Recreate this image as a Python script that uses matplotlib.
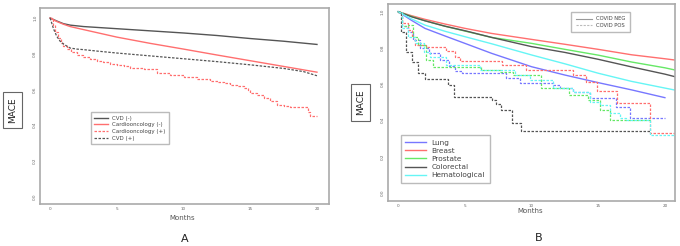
import numpy as np
import matplotlib as mpl
mpl.use('Agg')
from matplotlib import pyplot as plt
from matplotlib.lines import Line2D

# ---- panel A data ----
a_t = [0, 0.5, 1, 1.5, 2.5, 5, 7.5, 10, 12.5, 15, 17.5, 20]
cvd_neg = [1.0, 0.983, 0.968, 0.960, 0.952, 0.940, 0.928, 0.916, 0.902, 0.885, 0.870, 0.852]
cardio_neg = [1.0, 0.980, 0.965, 0.952, 0.935, 0.893, 0.858, 0.826, 0.793, 0.761, 0.729, 0.697]
cvd_pos_t = [0, 0.25, 0.5, 0.75, 1, 1.5, 2, 2.5, 3.5, 5, 7.5, 10, 12.5, 15, 17.5, 19, 20]
cvd_pos = [1.0, 0.94, 0.897, 0.870, 0.854, 0.832, 0.826, 0.823, 0.815, 0.804, 0.788, 0.772, 0.756, 0.738, 0.718, 0.700, 0.677]
cardio_pos_t = [0, 0.2, 0.4, 0.6, 0.8, 1, 1.3, 1.6, 2, 2.5, 3, 3.5, 4, 4.5, 5, 5.5, 6, 7, 8, 9, 10, 11, 12,
                12.6, 13, 13.5, 14, 14.5, 14.8, 15, 15.5, 16, 16.5, 17, 17.5, 18, 19, 19.3, 19.5, 20]
cardio_pos = [1.0, 0.96, 0.92, 0.89, 0.86, 0.841, 0.825, 0.810, 0.794, 0.782, 0.770, 0.760, 0.752, 0.745, 0.738,
              0.730, 0.720, 0.712, 0.695, 0.682, 0.669, 0.657, 0.645, 0.640, 0.636, 0.628, 0.620, 0.607, 0.595,
              0.583, 0.570, 0.551, 0.535, 0.514, 0.508, 0.505, 0.500, 0.477, 0.452, 0.452]

# ---- panel B data: COVID NEG (smooth) ----
b_t = [0, 1, 2, 3.5, 5, 7, 10, 12.5, 15, 17.5, 20, 20.75]
breast = [1.0, 0.978, 0.958, 0.932, 0.908, 0.880, 0.847, 0.820, 0.792, 0.762, 0.740, 0.733]
prostate = [1.0, 0.974, 0.950, 0.920, 0.893, 0.858, 0.825, 0.792, 0.760, 0.722, 0.690, 0.678]
colorectal = [1.0, 0.972, 0.950, 0.920, 0.895, 0.858, 0.807, 0.775, 0.737, 0.695, 0.655, 0.641]
hemato = [1.0, 0.960, 0.926, 0.892, 0.862, 0.823, 0.761, 0.712, 0.660, 0.615, 0.578, 0.567]
lung_t = [0, 1, 2, 3.5, 5, 7, 10, 12.5, 15, 17.5, 20]
lung = [1.0, 0.952, 0.908, 0.866, 0.825, 0.770, 0.696, 0.650, 0.608, 0.568, 0.525]

# ---- panel B data: COVID POS (steps) ----
lung_p_t = [0, 0.3, 0.7, 1.1, 1.6, 2.3, 3.1, 3.8, 4.25, 4.75, 8.1, 9.1, 11.6, 12.1, 13.1, 14.25, 14.4, 16.3, 17.4, 20]
lung_p = [1.0, 0.92, 0.89, 0.843, 0.797, 0.770, 0.733, 0.700, 0.672, 0.663, 0.632, 0.604, 0.595, 0.576, 0.558,
          0.549, 0.521, 0.475, 0.414, 0.414]
breast_p_t = [0, 0.3, 0.7, 1.0, 1.25, 2.1, 3.6, 4.25, 4.6, 7.8, 9.6, 13.1, 14.1, 14.9, 16.4, 18.9, 20.75]
breast_p = [1.0, 0.94, 0.90, 0.858, 0.816, 0.807, 0.785, 0.750, 0.727, 0.705, 0.678, 0.650, 0.613, 0.564, 0.494,
            0.328, 0.328]
prostate_p_t = [0, 0.3, 0.75, 1.1, 1.5, 2.1, 2.6, 6.2, 7.6, 8.6, 10.7, 12.8, 14.2, 15.1, 15.9, 19.0]
prostate_p = [1.0, 0.92, 0.926, 0.862, 0.816, 0.733, 0.696, 0.678, 0.669, 0.650, 0.576, 0.540, 0.512, 0.457,
              0.401, 0.401]
colorectal_p_t = [0, 0.2, 0.6, 1.0, 1.5, 2.0, 3.7, 4.2, 7.0, 7.3, 7.7, 8.5, 9.2, 18.9]
colorectal_p = [1.0, 0.89, 0.78, 0.724, 0.663, 0.626, 0.595, 0.530, 0.512, 0.490, 0.457, 0.387, 0.343, 0.343]
hemato_p_t = [0, 0.3, 0.7, 1.25, 1.9, 2.4, 3.6, 6.1, 8.75, 9.9, 11.6, 13.1, 14.4, 15.1, 15.9, 16.6, 17.1, 18.9, 20.75]
hemato_p = [1.0, 0.91, 0.86, 0.825, 0.780, 0.751, 0.705, 0.678, 0.650, 0.623, 0.576, 0.558, 0.503, 0.484, 0.438,
            0.410, 0.401, 0.319, 0.319]

xticks = [0, 5, 10, 15, 20]
yticks = [0.0, 0.2, 0.4, 0.6, 0.8, 1.0]

c_gray = '#555555'
c_red = '#ff6f6f'
c_blue = '#7777ff'
c_green = '#66e866'
c_cyan = '#66f5f5'
dash = (0, (2, 1.2))

fig = plt.figure(figsize=(6.8, 2.46), dpi=100)


def style_axes(ax):
    for s in ax.spines.values():
        s.set_color('#aaaaaa')
        s.set_linewidth(1.2)
    ax.set_xticks(xticks)
    ax.set_yticks(yticks)
    ax.set_xticklabels([str(v) for v in xticks], fontsize=3, color='#666666')
    ax.set_yticklabels(['%.1f' % v for v in yticks], fontsize=3, color='#666666', rotation=90, va='center')
    ax.tick_params(length=0, pad=2)


# ---- A ----
axA = fig.add_axes([0.0588, 0.1707, 0.425, 0.797])
axA.plot(a_t, cvd_neg, color=c_gray, lw=1.0)
axA.plot(a_t, cardio_neg, color=c_red, lw=1.0)
axA.plot(cardio_pos_t, cardio_pos, color=c_red, lw=0.9, ls=dash, drawstyle='steps-post')
axA.plot(cvd_pos_t, cvd_pos, color=c_gray, lw=0.9, ls=dash)
axA.set_xlim(-0.76, 20.9)
axA.set_ylim(-0.04, 1.056)
style_axes(axA)
hA = [Line2D([], [], color=c_gray, lw=1.0),
      Line2D([], [], color=c_red, lw=1.0),
      Line2D([], [], color=c_red, lw=0.9, ls=dash),
      Line2D([], [], color=c_gray, lw=0.9, ls=dash)]
legA = axA.legend(hA, ['CVD (-)', 'Cardiooncology (-)', 'Cardiooncology (+)', 'CVD (+)'],
                  loc='upper left', bbox_to_anchor=(0.175, 0.471), fontsize=4.0, fancybox=False,
                  edgecolor='#bbbbbb', handlelength=2.4, labelspacing=0.3, borderpad=0.7,
                  borderaxespad=0, framealpha=1)
legA.get_frame().set_linewidth(1.0)
for t in legA.get_texts():
    t.set_color('#444444')

fig.text(182 / 680, 1 - 218 / 246, 'Months', fontsize=5, color='#555555', ha='center', va='center')
fig.text(185 / 680, 1 - 239 / 246, 'A', fontsize=8, color='#222222', ha='center', va='center')
fig.text(12.5 / 680, 1 - 110 / 246, 'MACE', fontsize=6.5, rotation=90, ha='center', va='center',
         color='#222222',
         bbox=dict(boxstyle='square,pad=0.6', fc='white', ec='#666666', lw=0.8))

# ---- B ----
axB = fig.add_axes([0.570, 0.183, 0.4225, 0.801])
axB.plot(lung_t, lung, color=c_blue, lw=1.0)
axB.plot(b_t, breast, color=c_red, lw=1.0)
axB.plot(b_t, prostate, color=c_green, lw=1.0)
axB.plot(b_t, colorectal, color=c_gray, lw=1.0)
axB.plot(b_t, hemato, color=c_cyan, lw=1.0)
axB.plot(lung_p_t, lung_p, color=c_blue, lw=0.9, ls=dash, drawstyle='steps-post')
axB.plot(breast_p_t, breast_p, color=c_red, lw=0.9, ls=dash, drawstyle='steps-post')
axB.plot(prostate_p_t, prostate_p, color=c_green, lw=0.9, ls=dash, drawstyle='steps-post')
axB.plot(colorectal_p_t, colorectal_p, color=c_gray, lw=0.9, ls=dash, drawstyle='steps-post')
axB.plot(hemato_p_t, hemato_p, color=c_cyan, lw=0.9, ls=dash, drawstyle='steps-post')
axB.set_xlim(-0.8, 20.75)
axB.set_ylim(-0.046, 1.043)
style_axes(axB)

hB = [Line2D([], [], color=c, lw=1.0) for c in [c_blue, c_red, c_green, c_gray, c_cyan]]
legB = axB.legend(hB, ['Lung', 'Breast', 'Prostate', 'Colorectal', 'Hematological'],
                  loc='upper left', bbox_to_anchor=(0.046, 0.335), fontsize=5.3, fancybox=False,
                  edgecolor='#bbbbbb', handlelength=2.8, labelspacing=0.28, borderpad=0.6,
                  borderaxespad=0, framealpha=1)
legB.get_frame().set_linewidth(1.0)
for t in legB.get_texts():
    t.set_color('#444444')
axB.add_artist(legB)

hC = [Line2D([], [], color='#999999', lw=0.8),
      Line2D([], [], color='#bbbbbb', lw=0.8, ls=dash)]
legC = axB.legend(hC, ['COVID NEG', 'COVID POS'], loc='upper left', bbox_to_anchor=(0.640, 0.961),
                  fontsize=3.8, fancybox=False, edgecolor='#bbbbbb', handlelength=3.0,
                  labelspacing=0.25, borderpad=0.9, borderaxespad=0, framealpha=1)
legC.get_frame().set_linewidth(1.0)
for t in legC.get_texts():
    t.set_color('#444444')

fig.text(530 / 680, 1 - 211 / 246, 'Months', fontsize=5, color='#555555', ha='center', va='center')
fig.text(539 / 680, 1 - 237.7 / 246, 'B', fontsize=8, color='#222222', ha='center', va='center')
fig.text(360.5 / 680, 1 - 102.5 / 246, 'MACE', fontsize=6.5, rotation=90, ha='center', va='center',
         color='#222222',
         bbox=dict(boxstyle='square,pad=0.6', fc='white', ec='#666666', lw=0.8))

fig.savefig('out.png', dpi=100)
